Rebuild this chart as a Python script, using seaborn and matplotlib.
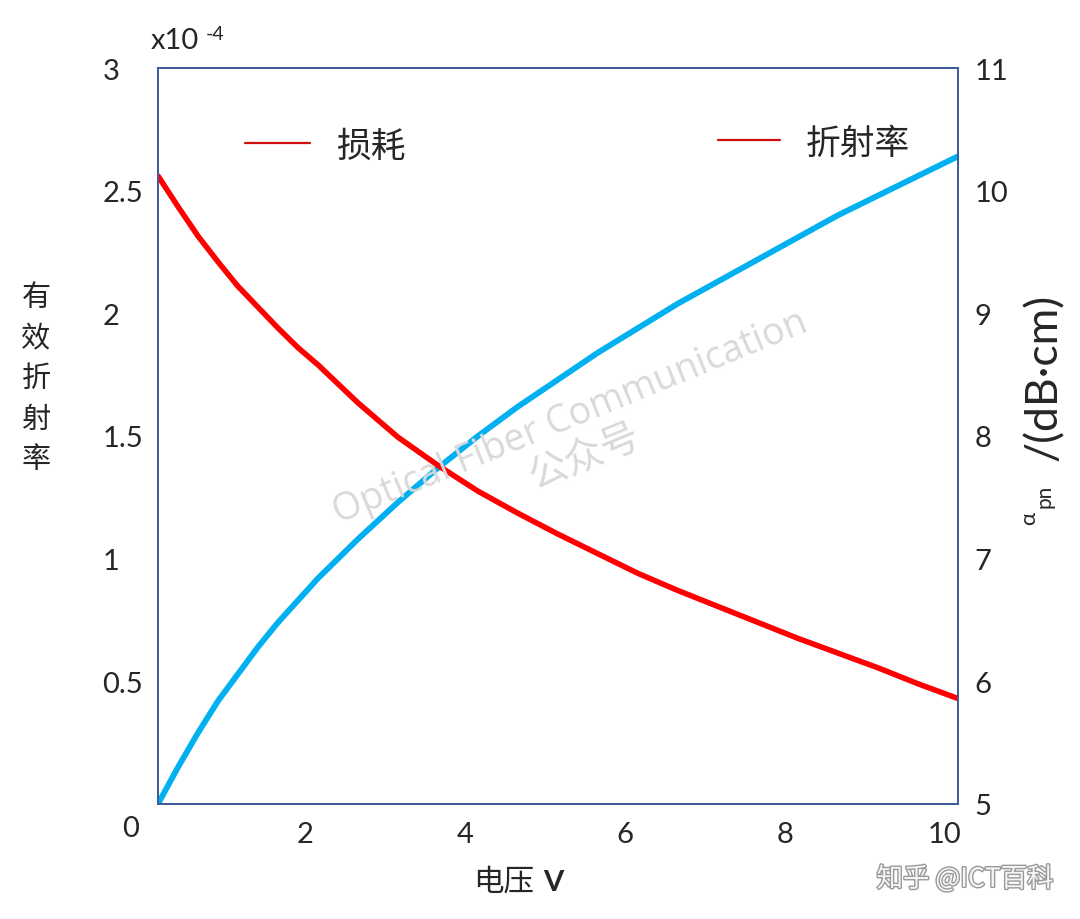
import matplotlib
matplotlib.use('Agg')
import matplotlib.pyplot as plt
import matplotlib.patheffects as pe
from matplotlib.lines import Line2D
from matplotlib.transforms import ScaledTranslation
import seaborn as sns

# data
voltage = [0, 0.25, 0.5, 0.75, 1, 1.25, 1.5, 1.75, 2, 2.5, 3, 3.5, 4, 4.5, 5,
           5.5, 6, 6.5, 7, 7.5, 8, 8.5, 9, 9.5, 10]
index_change = [0, 0.15, 0.29, 0.42, 0.53, 0.64, 0.74, 0.83, 0.92, 1.08, 1.23, 1.37, 1.5,
                1.62, 1.73, 1.84, 1.94, 2.04, 2.13, 2.22, 2.31, 2.40, 2.48, 2.56, 2.64]  # x1e-4
loss = [10.12, 9.87, 9.63, 9.42, 9.22, 9.05, 8.88, 8.72, 8.58, 8.27, 7.99, 7.76, 7.55,
        7.37, 7.2, 7.04, 6.88, 6.74, 6.61, 6.48, 6.35, 6.23, 6.11, 5.98, 5.86]  # dB/cm
xticks = [2, 4, 6, 8, 10]
left_ticks = [0.5, 1, 1.5, 2, 2.5, 3]
right_ticks = [5, 6, 7, 8, 9, 10, 11]

sns.set_style('white')
plt.rcParams['font.family'] = ['Lato', 'Noto Sans CJK SC', 'DejaVu Sans']
cjk = ['Noto Sans CJK SC', 'DejaVu Sans']

W, H = 1080, 920
fig = plt.figure(figsize=(W / 100, H / 100), dpi=100)
ax = fig.add_axes([158 / W, 1 - 805 / H, 800 / W, 736 / H])
ax2 = ax.twinx()

sns.lineplot(x=voltage, y=index_change, ax=ax, color='#00B0F0', lw=4.2)
sns.lineplot(x=voltage, y=loss, ax=ax2, color='#FF0000', lw=4.0)

ax.set_xlim(0, 10)
ax.set_ylim(0, 3)
ax2.set_ylim(5, 11)
ax.set_xticks(xticks)
ax.set_xticklabels([str(t) for t in xticks])
ax.set_yticks(left_ticks)
ax.set_yticklabels([f'{t:g}' for t in left_ticks])
ax2.set_yticks(right_ticks)
ax2.set_yticklabels([str(t) for t in right_ticks])

ax.tick_params(axis='x', length=0, labelsize=21, pad=12)
ax.tick_params(axis='y', length=0, labelsize=21, pad=40)
ax2.tick_params(axis='y', length=0, labelsize=21, pad=12)
for lbl in ax.get_yticklabels():
    lbl.set_ha('left')
shift = ScaledTranslation(-13 / 100, 0, fig.dpi_scale_trans)
for lbl in ax.get_xticklabels():
    lbl.set_transform(lbl.get_transform() + shift)
ax.annotate('0', xy=(0, 0), xytext=(-20, -17), textcoords='offset points',
            ha='center', va='center', fontsize=21)

for a in (ax, ax2):
    for s in a.spines.values():
        s.set_color('#3D5C9A')
        s.set_linewidth(1.3)
    a.set_xlabel('')
    a.set_ylabel('')
    a.grid(False)

# legends (both drawn in red in the original)
h = Line2D([], [], color='#D01010', lw=1.6)
leg_kw = dict(frameon=False, borderpad=0, borderaxespad=0, handletextpad=0.75,
              prop={'family': cjk, 'size': 25}, loc='center left')
leg1 = ax2.legend([h], ['损耗'], bbox_to_anchor=(0.109, 0.894), handlelength=1.87, **leg_kw)
ax2.add_artist(leg1)
ax2.legend([h], ['折射率'], bbox_to_anchor=(0.70, 0.898), handlelength=1.79, **leg_kw)

# axis titles
fig.text(151 / W, 1 - 41 / H, 'x10', ha='left', va='center', fontsize=21)
fig.text(206 / W, 1 - 35 / H, '-4', ha='left', va='center', fontsize=14)
for i, ch in enumerate('有效折射率'):
    fig.text(36 / W, 1 - (298 + i * 40.5) / H, ch, ha='center', va='center',
             fontsize=21, family=cjk)
fig.text(534 / W, 1 - 882 / H, '电压', ha='right', va='center', fontsize=22, family=cjk)
fig.text(543 / W, 1 - 883 / H, 'V', ha='left', va='center', fontsize=21, fontweight='bold')

fig.text(1044 / W, 1 - 461 / H, '/(dB·cm)', rotation=90, ha='center', va='bottom', fontsize=32)
fig.text(1029 / W, 1 - 518 / H, 'α', rotation=90, ha='center', va='center', fontsize=16)
fig.text(1044 / W, 1 - 496 / H, 'pn', rotation=90, ha='center', va='center', fontsize=15)

# watermarks
fig.text(570 / W, 1 - 418 / H, 'Optical Fiber Communication', rotation=22.3,
         rotation_mode='anchor', ha='center', va='center', fontsize=27,
         family='Open Sans', color='#D9D9D9', zorder=5)
fig.text(585 / W, 1 - 458 / H, '公众号', rotation=22.3, rotation_mode='anchor',
         ha='center', va='center', fontsize=28, family=cjk, color='#D9D9D9', zorder=5)
fig.text(965 / W, 1 - 880 / H, '知乎 @ICT百科', ha='center', va='center', fontsize=19,
         family=cjk, color='#F4F4F4',
         path_effects=[pe.withStroke(linewidth=2, foreground='#9A9A9A')])

fig.savefig('out.png', dpi=100)
